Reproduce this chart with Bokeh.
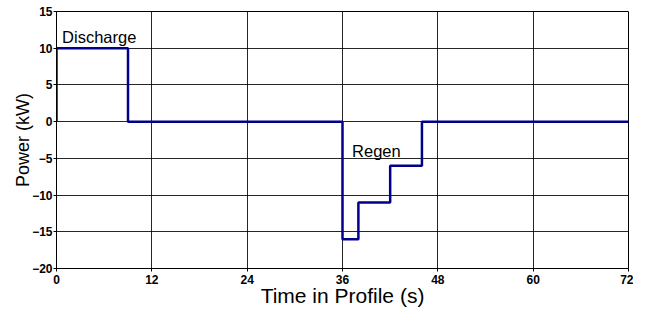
from bokeh.plotting import figure
from bokeh.models import Range1d, FixedTicker, Label
from bokeh.embed import file_html
from bokeh.resources import INLINE

# Data: step power profile
time_s = [0, 0, 9, 9, 36, 36, 38, 38, 42, 42, 46, 46, 72]
power_kw = [0, 10, 10, 0, 0, -16, -16, -11, -11, -6, -6, 0, 0]
x_ticks = [0, 12, 24, 36, 48, 60, 72]
y_ticks = [-20, -15, -10, -5, 0, 5, 10, 15]

p = figure(width=633, height=310, output_backend="svg", toolbar_location=None,
           x_range=Range1d(0, 72), y_range=Range1d(-20, 15),
           min_border_left=56, min_border_right=5, min_border_top=11, min_border_bottom=42)

p.line(time_s, power_kw, line_color="#00008B", line_width=2.5)

p.xaxis.ticker = FixedTicker(ticks=x_ticks)
p.yaxis.ticker = FixedTicker(ticks=y_ticks)
p.xaxis.axis_label = "Time in Profile (s)"
p.yaxis.axis_label = "Power (kW)"
for ax in (p.xaxis, p.yaxis):
    ax.axis_label_text_font = "Liberation Sans"
    ax.axis_label_text_font_style = "normal"
    ax.axis_label_text_color = "black"
    ax.major_label_text_font = "Liberation Sans"
    ax.major_label_text_font_style = "bold"
    ax.major_label_text_font_size = "12px"
    ax.major_label_text_color = "black"
    ax.axis_line_color = "black"
    ax.major_tick_line_color = "black"
    ax.major_tick_in = 0
    ax.major_tick_out = 3
    ax.minor_tick_line_color = None
p.xaxis.axis_label_text_font_size = "21px"
p.yaxis.axis_label_text_font_size = "18px"
p.xaxis.axis_label_standoff = -3
p.yaxis.axis_label_standoff = -4
p.xaxis.major_label_standoff = 3
p.yaxis.major_label_standoff = 1

p.xgrid.grid_line_color = "black"
p.ygrid.grid_line_color = "black"
p.xgrid.grid_line_alpha = 0.85
p.ygrid.grid_line_alpha = 0.85
p.outline_line_color = "black"
p.outline_line_width = 1

# annotations
p.add_layout(Label(x=0.7, y=11.5, text="Discharge", text_font="Liberation Sans",
                   text_font_size="16.5px", text_color="black", text_baseline="middle"))
p.add_layout(Label(x=37.2, y=-4.0, text="Regen", text_font="Liberation Sans",
                   text_font_size="16.5px", text_color="black", text_baseline="middle"))

open("out.html", "w").write(file_html(p, INLINE))
